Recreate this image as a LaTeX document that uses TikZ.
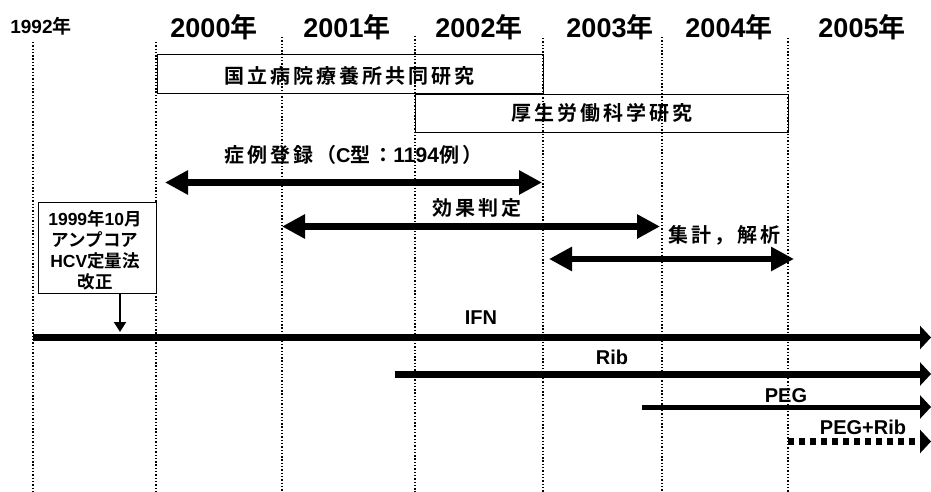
\documentclass[tikz,border=0pt]{standalone}
\usepackage{fontspec}
\setmainfont{Noto Sans CJK JP}[BoldFont={Noto Sans CJK JP Bold}]
\newfontfamily\latf{Liberation Sans}
\usetikzlibrary{arrows.meta}
\begin{document}
\begin{tikzpicture}[x=1pt,y=-1pt,
  yr/.style={font=\bfseries\fontsize{27}{27}\selectfont, inner sep=0pt},
  grid/.style={line width=1.6pt, dash pattern=on 1.4pt off 1.9pt},
  bx/.style={draw, line width=1pt},
  spaced/.style={font=\bfseries\fontsize{20}{20}\selectfont\addfontfeature{LetterSpace=15}, inner sep=0pt},
  dbl/.style={line width=6.5pt, {Triangle[length=23pt,width=23pt]}-{Triangle[length=23pt,width=23pt]}},
  bar/.style={line width=7pt, -{Triangle[length=11pt,width=23pt]}},
  drug/.style={font=\latf\bfseries\fontsize{20}{20}\selectfont, inner sep=0pt}]
\useasboundingbox (0,0) rectangle (931,492);
% year labels
\node[font=\bfseries\fontsize{19}{19}\selectfont, inner sep=0pt] (y92) at (41,26) {{\latf 1992}年};
\node[yr] (y00) at (214,27) {{\latf 2000}年};
\node[yr] (y01) at (347,27) {{\latf 2001}年};
\node[yr] (y02) at (479,27) {{\latf 2002}年};
\node[yr] (y03) at (610,27) {{\latf 2003}年};
\node[yr] (y04) at (729,27) {{\latf 2004}年};
\node[yr] (y05) at (862,27) {{\latf 2005}年};
% grid lines
\foreach \n/\x/\t in {a/33/42,b/156/42,c/282/37,d/415/36,e/543/38,f/662/37,g/788/38}{
  \coordinate (t\n) at (\x,\t);
  \coordinate (b\n) at (\x,492);
  \draw[grid] (t\n) -- (b\n);
}
% boxes
\node[bx, minimum width=386pt, minimum height=39pt] (box1) at (350,74.5) {};
\node[spaced] (box1t) at (349,76) {国立病院療養所共同研究};
\node[bx, minimum width=373pt, minimum height=38pt] (box2) at (601.5,114) {};
\node[spaced] (box2t) at (602,113) {厚生労働科学研究};
% registration
\node[spaced] (reg) at (353,155) {症例登録（{\latf\bfseries C}型：{\latf\bfseries\fontsize{21}{21}\selectfont 1194}例）};
\coordinate (r1) at (165,182.5); \coordinate (r2) at (542,182.5);
\draw[dbl] (r1) -- (r2);
\node[spaced] (eff) at (477,208) {効果判定};
\coordinate (e1) at (282,226.5); \coordinate (e2) at (660,226.5);
\draw[dbl] (e1) -- (e2);
\node[spaced] (ana) at (724,235) {集計，解析};
\coordinate (a1) at (549,259); \coordinate (a2) at (794,259);
\draw[dbl] (a1) -- (a2);
% note box
\node[bx, fill=white, minimum width=118pt, minimum height=91pt] (note) at (97,247.5) {};
\node[inner sep=0pt, align=center, font=\bfseries\fontsize{17.5}{21}\selectfont] (notet) at (95,250) {{\latf 1999}年{\latf 10}月\\アンプコア\\{\latf HCV}定量法\\改正};
\coordinate (nt) at (120,332);
\draw[line width=2pt, -{Triangle[length=10pt,width=12pt]}] (note.south -| nt) -- (nt);
% drug bars
\coordinate (i1) at (33,337.5); \coordinate (i2) at (931,337.5);
\draw[bar] (i1) -- (i2);
\node[drug] (ifn) at (481,318) {IFN};
\coordinate (rb1) at (395,374); \coordinate (rb2) at (931,374);
\draw[bar] (rb1) -- (rb2);
\node[drug] (rib) at (612,357) {Rib};
\coordinate (p1) at (642,407); \coordinate (p2) at (931,407);
\draw[line width=5pt, -{Triangle[length=11pt,width=23pt]}] (p1) -- (p2);
\node[drug] (peg) at (786,396) {PEG};
\coordinate (pr1) at (788,441.5); \coordinate (pr2) at (931,441.5);
\draw[line width=7pt, dash pattern=on 6pt off 5pt, -{Triangle[length=11pt,width=23pt]}] (pr1) -- (pr2);
\node[drug] (pegrib) at (863,427) {PEG+Rib};
\end{tikzpicture}
\end{document}
